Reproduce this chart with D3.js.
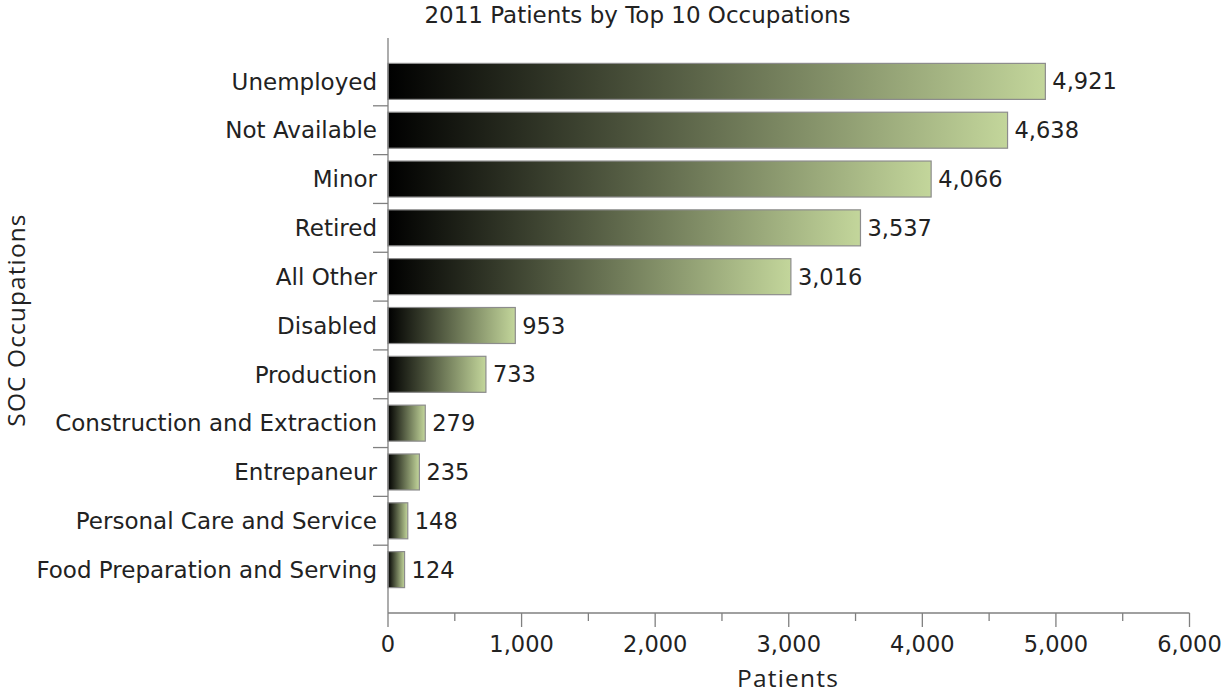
<!DOCTYPE html>
<html>
<head>
<meta charset="utf-8">
<script src="https://cdn.jsdelivr.net/npm/d3@7"></script>
<style>
  html, body { margin: 0; padding: 0; background: #fff; }
  svg { display: block; }
</style>
</head>
<body>
<svg id="chart" width="1225" height="696"></svg>
<script>
// Top 10 occupations of 2011 patients (plus the "All Other" bucket)
const categories = [
  "Unemployed", "Not Available", "Minor", "Retired", "All Other",
  "Disabled", "Production", "Construction and Extraction",
  "Entrepaneur", "Personal Care and Service", "Food Preparation and Serving"
];
const patients = [4921, 4638, 4066, 3537, 3016, 953, 733, 279, 235, 148, 124];
const xTicks = [0, 1000, 2000, 3000, 4000, 5000, 6000];
const xMinorTicks = [500, 1500, 2500, 3500, 4500, 5500];
const chartTitle = "2011 Patients by Top 10 Occupations";
const xTitle = "Patients";
const yTitle = "SOC Occupations";

const data = categories.map((c, i) => ({ category: c, value: patients[i] }));

const svg = d3.select("#chart");
const plotLeft = 388, plotRight = 1189.5, plotTop = 38, plotBottom = 613;
const axisColor = "#808080";
const textColor = "#222";
const labelFont = "'DejaVu Sans', Verdana, sans-serif";
const titleFont = "'Open Sans', sans-serif";

const x = d3.scaleLinear().domain([0, 6000]).range([plotLeft, plotRight]);
const y = d3.scaleBand().domain(categories).range([plotTop, plotBottom])
  .paddingInner(0.2626).paddingOuter(0.52);

// Horizontal gradient from black to pale green, stretched over each bar
const defs = svg.append("defs");
const grad = defs.append("linearGradient")
  .attr("id", "barFill")
  .attr("x1", "0%").attr("y1", "0%").attr("x2", "100%").attr("y2", "0%");
grad.append("stop").attr("offset", "0%").attr("stop-color", "#000000");
grad.append("stop").attr("offset", "100%").attr("stop-color", "#c3d69b");

// Title
svg.append("text")
  .attr("x", 637.5).attr("y", 23)
  .attr("text-anchor", "middle")
  .attr("font-family", labelFont).attr("font-size", 23)
  .attr("fill", textColor)
  .text(chartTitle);

// Bars
svg.append("g").selectAll("rect")
  .data(data)
  .join("rect")
  .attr("x", x(0))
  .attr("y", d => y(d.category))
  .attr("width", d => x(d.value) - x(0))
  .attr("height", y.bandwidth())
  .attr("fill", "url(#barFill)")
  .attr("stroke", "#8c8c8c")
  .attr("stroke-width", 1.2);

// Value labels at bar ends
svg.append("g").selectAll("text")
  .data(data)
  .join("text")
  .attr("x", d => x(d.value) + 7)
  .attr("y", d => y(d.category) + y.bandwidth() / 2)
  .attr("dy", "0.36em")
  .attr("font-family", labelFont).attr("font-size", 22.5)
  .attr("fill", textColor)
  .text(d => d3.format(",")(d.value));

// Y axis: line, category labels and separator ticks between bands
const yAxis = svg.append("g");
yAxis.append("line")
  .attr("x1", plotLeft).attr("x2", plotLeft)
  .attr("y1", plotTop).attr("y2", plotBottom)
  .attr("stroke", axisColor).attr("stroke-width", 1.3);
yAxis.selectAll("text.cat")
  .data(categories)
  .join("text")
  .attr("class", "cat")
  .attr("x", plotLeft - 11)
  .attr("y", d => y(d) + y.bandwidth() / 2)
  .attr("dy", "0.36em")
  .attr("text-anchor", "end")
  .attr("font-family", labelFont).attr("font-size", 23)
  .attr("fill", textColor)
  .text(d => d);
const gap = y.step() * y.paddingInner() / 2;
yAxis.selectAll("line.sep")
  .data(categories.slice(1))
  .join("line")
  .attr("class", "sep")
  .attr("x1", plotLeft - 15).attr("x2", plotLeft)
  .attr("y1", d => y(d) - gap).attr("y2", d => y(d) - gap)
  .attr("stroke", axisColor).attr("stroke-width", 1.3);

// X axis: line, major and minor ticks, labels
const xAxis = svg.append("g");
xAxis.append("line")
  .attr("x1", plotLeft).attr("x2", plotRight)
  .attr("y1", plotBottom).attr("y2", plotBottom)
  .attr("stroke", axisColor).attr("stroke-width", 1.3);
xAxis.selectAll("line.major")
  .data(xTicks)
  .join("line")
  .attr("class", "major")
  .attr("x1", d => x(d)).attr("x2", d => x(d))
  .attr("y1", plotBottom).attr("y2", plotBottom + 14)
  .attr("stroke", axisColor).attr("stroke-width", 1.3);
xAxis.selectAll("line.minor")
  .data(xMinorTicks)
  .join("line")
  .attr("class", "minor")
  .attr("x1", d => x(d)).attr("x2", d => x(d))
  .attr("y1", plotBottom).attr("y2", plotBottom + 8)
  .attr("stroke", axisColor).attr("stroke-width", 1.3);
xAxis.selectAll("text.tick")
  .data(xTicks)
  .join("text")
  .attr("class", "tick")
  .attr("x", d => x(d))
  .attr("y", 652)
  .attr("text-anchor", "middle")
  .attr("font-family", labelFont).attr("font-size", 22.5)
  .attr("fill", textColor)
  .text(d => d3.format(",")(d));

// Axis titles
svg.append("text")
  .attr("x", 788).attr("y", 687)
  .attr("text-anchor", "middle")
  .attr("font-family", titleFont).attr("font-size", 24.5)
  .attr("letter-spacing", 1.2)
  .attr("fill", textColor)
  .text(xTitle);
svg.append("text")
  .attr("transform", "translate(25,320) rotate(-90)")
  .attr("text-anchor", "middle")
  .attr("font-family", titleFont).attr("font-size", 24.5)
  .attr("letter-spacing", 1.1)
  .attr("fill", textColor)
  .text(yTitle);
</script>
</body>
</html>
